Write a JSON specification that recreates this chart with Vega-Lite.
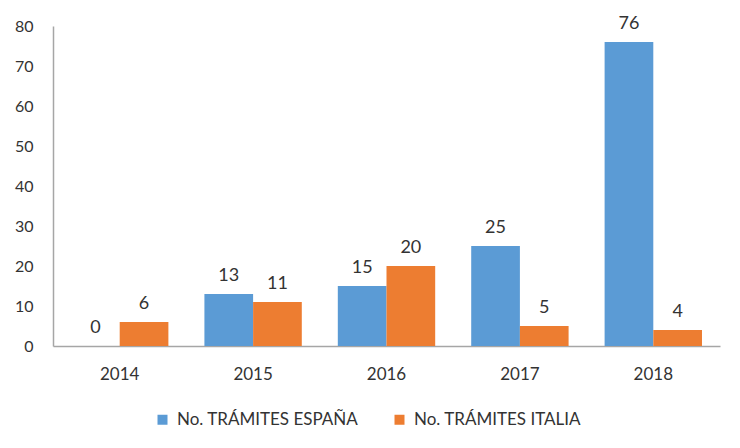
{
  "$schema": "https://vega.github.io/schema/vega-lite/v6.json",
  "width": 667,
  "height": 320,
  "autosize": "none",
  "padding": {"left": 53, "top": 26, "right": 20, "bottom": 102},
  "background": "white",
  "data": {"values": [
    {"year": "2014", "serie": "No. TRÁMITES ESPAÑA", "valor": 0},
    {"year": "2014", "serie": "No. TRÁMITES ITALIA", "valor": 6},
    {"year": "2015", "serie": "No. TRÁMITES ESPAÑA", "valor": 13},
    {"year": "2015", "serie": "No. TRÁMITES ITALIA", "valor": 11},
    {"year": "2016", "serie": "No. TRÁMITES ESPAÑA", "valor": 15},
    {"year": "2016", "serie": "No. TRÁMITES ITALIA", "valor": 20},
    {"year": "2017", "serie": "No. TRÁMITES ESPAÑA", "valor": 25},
    {"year": "2017", "serie": "No. TRÁMITES ITALIA", "valor": 5},
    {"year": "2018", "serie": "No. TRÁMITES ESPAÑA", "valor": 76},
    {"year": "2018", "serie": "No. TRÁMITES ITALIA", "valor": 4}
  ]},
  "encoding": {
    "x": {"field": "year", "type": "nominal", "scale": {"paddingInner": 0.27, "paddingOuter": 0.135},
      "axis": {"title": null, "labelAngle": 0, "ticks": false, "labelPadding": 20, "labelFont": "Lato", "labelFontSize": 17, "labelColor": "#333333", "domainColor": "#a6a6a6", "domainWidth": 1.5}},
    "xOffset": {"field": "serie", "type": "nominal"},
    "y": {"field": "valor", "type": "quantitative", "scale": {"domain": [0, 80]},
      "axis": {"title": null, "values": [0,10,20,30,40,50,60,70,80], "grid": false, "ticks": false, "labelPadding": 20, "labelFont": "Lato", "labelFontSize": 16, "labelColor": "#333333", "domainColor": "#a6a6a6", "domainWidth": 1.5}}
  },
  "layer": [
    {
      "mark": {"type": "bar"},
      "encoding": {
        "color": {"field": "serie", "type": "nominal",
          "scale": {"domain": ["No. TRÁMITES ESPAÑA", "No. TRÁMITES ITALIA"], "range": ["#5b9bd5", "#ed7d31"]},
          "legend": {"title": null, "orient": "none", "legendX": 101, "legendY": 385, "direction": "horizontal", "symbolType": "square", "symbolSize": 100, "symbolStrokeWidth": 0, "labelFont": "Lato", "labelFontSize": 17, "labelLimit": 400, "labelColor": "#333333", "columnPadding": 32, "labelOffset": 6}}
      }
    },
    {
      "mark": {"type": "text", "baseline": "bottom", "dy": -9, "font": "Lato", "fontSize": 18, "color": "#333333"},
      "encoding": {"text": {"field": "valor", "type": "quantitative"}}
    }
  ],
  "config": {"view": {"stroke": null}}
}
